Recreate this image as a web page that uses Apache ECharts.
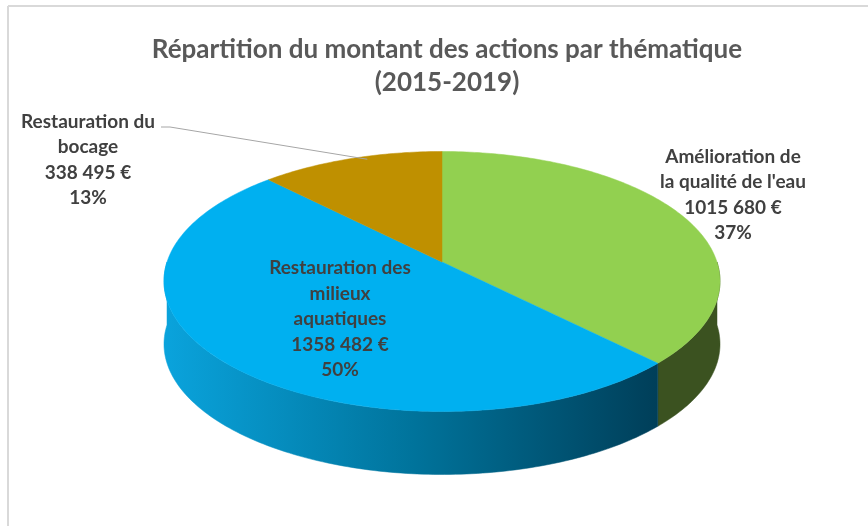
<!DOCTYPE html>
<html>
<head>
<meta charset="utf-8">
<script src="https://cdn.jsdelivr.net/npm/echarts@6/dist/echarts.min.js"></script>
<style>
  html, body { margin: 0; padding: 0; background: #fff; }
  #chart { width: 868px; height: 526px; }
</style>
</head>
<body>
<div id="chart"></div>
<script>
// données
const themes = [
  "Amélioration de\nla qualité de l'eau",
  'Restauration des\nmilieux\naquatiques',
  'Restauration du\nbocage'
];
const amounts = [1015680, 1358482, 338495];
const shares = [37, 50, 13];

// styles
const topColors = ['#92d050', '#00b0f0', '#bf9000'];
const sideColors = [
  '#3b5220',
  new echarts.graphic.LinearGradient(165, 0, 665, 0, [
    { offset: 0, color: '#0aa3dc' },
    { offset: 0.5, color: '#00739b' },
    { offset: 1, color: '#003d57' }
  ], true),
  '#6b5100'
];
const labelPos = [[733, 195], [340, 319], [88, 160]];

// géométrie du camembert "3D" (légère perspective)
const cx = 442, cy = 262, rx = 275, ry = 130, depth = 63, persp = 0.15;
const total = amounts.reduce((a, b) => a + b, 0);
const startAngles = [];
let acc = 0;
amounts.forEach(v => { startAngles.push(acc / total * 360); acc += v; });

function pt(deg, dy) {
  const r = deg * Math.PI / 180;
  const s = 1 - persp * Math.cos(r);
  return [cx + rx * Math.sin(r) * s, cy - ry * Math.cos(r) * s + (dy || 0)];
}
function arc(a, b, dy) {
  const pts = [];
  const n = Math.max(2, Math.ceil(Math.abs(b - a)));
  for (let k = 0; k <= n; k++) pts.push(pt(a + (b - a) * k / n, dy));
  return pts;
}
function fmtAmount(v) {
  const low = String(v % 1000).padStart(3, '0');
  return Math.floor(v / 1000) + ' ' + low + ' €';
}

const chart = echarts.init(document.getElementById('chart'));
chart.setOption({
  animation: false,
  title: {
    text: 'Répartition du montant des actions par thématique\n(2015-2019)',
    left: 442,
    top: 28,
    textAlign: 'center',
    textStyle: {
      fontFamily: 'Lato',
      fontSize: 26,
      fontWeight: 'bold',
      color: '#595959',
      lineHeight: 33
    }
  },
  graphic: [
    { type: 'line', shape: { x1: 8, y1: 6, x2: 868, y2: 6 }, style: { stroke: '#d9d9d9', lineWidth: 2 } },
    { type: 'line', shape: { x1: 8, y1: 6, x2: 8, y2: 526 }, style: { stroke: '#d9d9d9', lineWidth: 2 } }
  ],
  series: [{
    type: 'custom',
    coordinateSystem: 'none',
    data: amounts,
    renderItem: function (params, api) {
      const i = params.dataIndex;
      const a0 = startAngles[i];
      const a1 = a0 + api.value(0) / total * 360;
      const children = [];
      // face latérale (partie avant uniquement)
      const s = Math.max(a0, 90), e = Math.min(a1, 270);
      if (e > s) {
        const pts = arc(s, e, 0).concat(arc(e, s, depth));
        children.push({
          type: 'polygon',
          z2: 1,
          shape: { points: pts },
          style: { fill: sideColors[i], stroke: sideColors[i], lineWidth: 0.5 }
        });
      }
      // dessus
      children.push({
        type: 'polygon',
        z2: 5,
        shape: { points: [[cx, cy]].concat(arc(a0, a1, 0)) },
        style: { fill: topColors[i], stroke: topColors[i], lineWidth: 0.5 }
      });
      // étiquette
      const p = labelPos[i];
      children.push({
        type: 'text',
        z2: 10,
        style: {
          text: themes[i] + '\n' + fmtAmount(api.value(0)) + '\n' + shares[i] + '%',
          x: p[0],
          y: p[1],
          align: 'center',
          verticalAlign: 'middle',
          fill: '#404040',
          fontFamily: 'Lato',
          fontSize: 19,
          fontWeight: 'bold',
          lineHeight: 25.5
        }
      });
      // ligne de rappel pour la petite part
      if (i === 2) {
        const m = pt((a0 + a1) / 2 + 4, 0);
        children.push({
          type: 'polyline',
          z2: 10,
          shape: { points: [[161, 127], [170, 127], [m[0], m[1] + 3]] },
          style: { stroke: '#a6a6a6', lineWidth: 1, fill: null }
        });
      }
      return { type: 'group', children: children };
    }
  }]
});
window.onresize = function () { chart.resize(); };
</script>
</body>
</html>
